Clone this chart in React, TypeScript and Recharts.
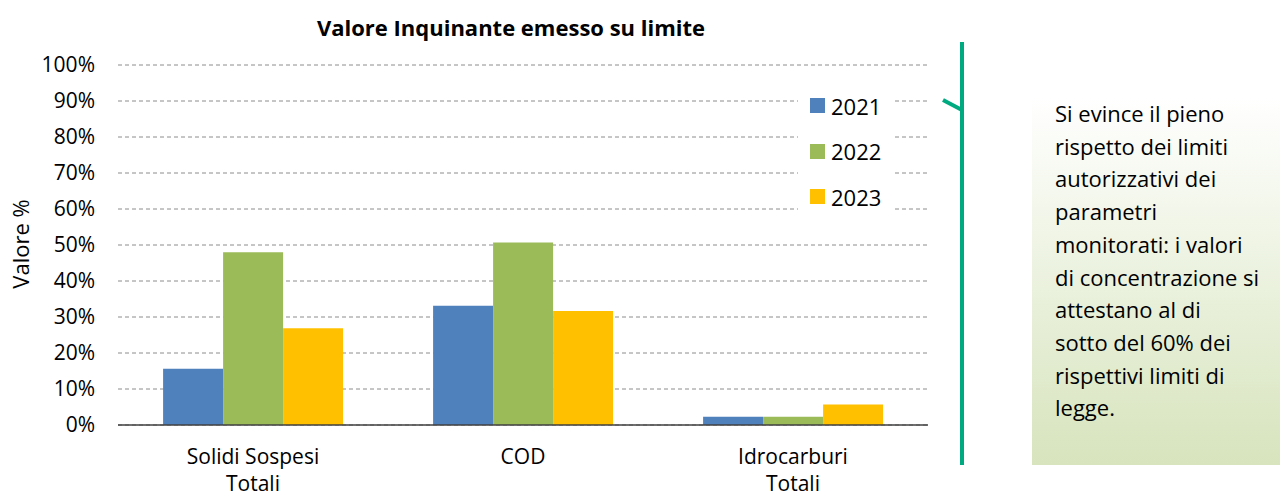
import { BarChart, Bar, XAxis, YAxis, CartesianGrid, Legend } from 'recharts';

// categorie (a capo con \n) e valori in % sul limite
const categories = ['Solidi Sospesi\nTotali', 'COD', 'Idrocarburi\nTotali'];
const values2021 = [15.6, 33.1, 2.3];
const values2022 = [48.0, 50.7, 2.3];
const values2023 = [26.9, 31.7, 5.7];
const yTicks = [0, 10, 20, 30, 40, 50, 60, 70, 80, 90, 100];

const noteLines = [
  'Si evince il pieno',
  'rispetto dei limiti',
  'autorizzativi dei',
  'parametri',
  'monitorati: i valori',
  'di concentrazione si',
  'attestano al di',
  'sotto del 60% dei',
  'rispettivi limiti di',
  'legge.',
];

const data = categories.map((name, i) => ({
  name,
  y2021: values2021[i],
  y2022: values2022[i],
  y2023: values2023[i],
}));

const FONT = '"Open Sans", sans-serif';

function CategoryTick({ x, y, payload }: any) {
  const lines = String(payload.value).split('\n');
  return (
    <text x={x} y={y} textAnchor="middle" fontFamily={FONT} fontSize={21} fill="#000">
      {lines.map((l, i) => (
        <tspan key={i} x={x} dy={i === 0 ? 37 : 27}>
          {l}
        </tspan>
      ))}
    </text>
  );
}

function YearLegend({ payload }: any) {
  return (
    <div style={{ background: '#fff', width: 95, height: 136, paddingTop: 3, boxSizing: 'border-box' }}>
      {(payload || []).map((p: any) => (
        <div key={p.value} style={{ display: 'flex', alignItems: 'center', height: 45.5, paddingLeft: 12 }}>
          <span style={{ width: 15, height: 15, background: p.color, display: 'inline-block', marginRight: 6 }} />
          <span style={{ fontFamily: FONT, fontSize: 22, color: '#000' }}>{p.value}</span>
        </div>
      ))}
    </div>
  );
}

export default function App() {
  return (
    <div style={{ position: 'absolute', left: 0, top: 0, width: 1280, height: 496, background: '#fff', overflow: 'hidden' }}>
      <div
        style={{
          position: 'absolute',
          left: 261,
          top: 12,
          width: 500,
          textAlign: 'center',
          fontFamily: FONT,
          fontWeight: 700,
          fontSize: 22,
          color: '#000',
        }}
      >
        Valore Inquinante emesso su limite
      </div>
      <div
        style={{
          position: 'absolute',
          left: -30,
          top: 229,
          width: 100,
          textAlign: 'center',
          transform: 'rotate(-90deg)',
          fontFamily: FONT,
          fontSize: 22,
          color: '#000',
        }}
      >
        Valore %
      </div>

      <BarChart
        width={945}
        height={496}
        data={data}
        margin={{ top: 65, right: 17, left: 18, bottom: 11 }}
        barCategoryGap="16.7%"
        barGap={0}
        style={{ position: 'absolute', left: 0, top: 0 }}
      >
        <CartesianGrid vertical={false} stroke="#8c8c8c" strokeDasharray="4 3" />
        <XAxis
          dataKey="name"
          height={60}
          tickSize={0}
          tickLine={false}
          axisLine={{ stroke: '#404040', strokeWidth: 1.5 }}
          tick={<CategoryTick />}
          interval={0}
        />
        <YAxis
          width={100}
          domain={[0, 100]}
          ticks={yTicks}
          tickFormatter={(v) => `${v}%`}
          axisLine={false}
          tickLine={false}
          tickSize={0}
          tickMargin={23}
          tick={{ fontFamily: FONT, fontSize: 21, fill: '#000' }}
        />
        <Legend
          layout="vertical"
          align="center"
          verticalAlign="middle"
          content={<YearLegend />}
          wrapperStyle={{ left: 798, top: 80, width: 95, height: 136 }}
        />
        <Bar dataKey="y2021" name="2021" fill="#4F81BD" isAnimationActive={false} />
        <Bar dataKey="y2022" name="2022" fill="#9BBB59" isAnimationActive={false} />
        <Bar dataKey="y2023" name="2023" fill="#FFC000" isAnimationActive={false} />
      </BarChart>

      <svg width={40} height={430} style={{ position: 'absolute', left: 940, top: 40 }}>
        <line x1={22} y1={2} x2={22} y2={425} stroke="#00AA80" strokeWidth={4} />
        <line x1={3} y1={60} x2={22} y2={70} stroke="#00AA80" strokeWidth={4} />
      </svg>

      <div
        style={{
          position: 'absolute',
          left: 1032,
          top: 97,
          width: 248,
          height: 368,
          background: 'linear-gradient(to bottom, #ffffff 0%, #d7e4bd 100%)',
          boxSizing: 'border-box',
          paddingLeft: 23,
          fontFamily: FONT,
          fontSize: 22,
          lineHeight: '32.7px',
          color: '#000',
        }}
      >
        {noteLines.map((l) => (
          <div key={l} style={{ whiteSpace: 'nowrap' }}>
            {l}
          </div>
        ))}
      </div>
    </div>
  );
}
